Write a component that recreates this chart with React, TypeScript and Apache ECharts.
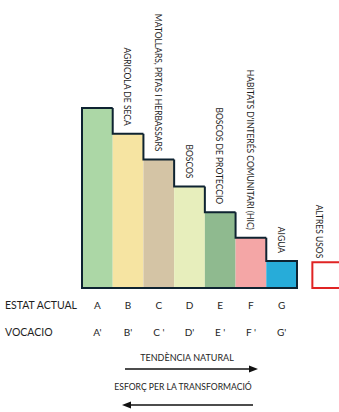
import React, { useEffect, useRef } from "react";
import * as echarts from "echarts";

const LETTERS = ["A", "B", "C", "D", "E", "F", "G"];
const PRIMES = ["A'", "B'", "C '", "D'", "E '", "F '", "G'"];
const VALUES = [7, 6, 5, 3.95, 2.95, 1.95, 1.05];
const LABELS = [
  "",
  "AGRICOLA DE SECA",
  "MATOLLARS, PRTAS I HERBASSARS",
  "BOSCOS",
  "BOSCOS DE PROTECCIO",
  "HABITATS D'INTERÉS COMUNITARI (HIC)",
  "AIGUA",
];
const COLORS = ["#acd7a6", "#f6e4a2", "#d4c4a5", "#e7eebc", "#8fba8f", "#f4a6a6", "#27acd9"];
const OTHER_LABEL = "ALTRES USOS";
const OTHER_POS = 7.5;
const OTHER_VALUE = 1;

const FONT = "Lato, 'Open Sans', sans-serif";
const OUTLINE = "#0e2331";
const TEXT = "#1e1e1e";

export default function App() {
  const ref = useRef<HTMLDivElement>(null);
  useEffect(() => {
    if (!ref.current) return;
    const chart = echarts.init(ref.current, undefined, { renderer: "svg" });
    const barData = VALUES.map((v, i) => [i, v]);
    const option: any = {
      animation: false,
      grid: { left: 82, right: 42, top: 108, bottom: 124 },
      xAxis: [
        { type: "value", min: 0, max: 7, show: false },
        {
          type: "category",
          data: LETTERS,
          position: "bottom",
          axisLine: { show: false },
          axisTick: { show: false },
          axisLabel: { margin: 12, fontSize: 10, color: TEXT, fontFamily: FONT },
        },
        {
          type: "category",
          data: PRIMES,
          position: "bottom",
          offset: 27,
          axisLine: { show: false },
          axisTick: { show: false },
          axisLabel: { margin: 12, fontSize: 10, color: TEXT, fontFamily: FONT },
        },
      ],
      yAxis: { type: "value", min: 0, max: 7, show: false },
      series: [
        {
          type: "custom",
          clip: false,
          xAxisIndex: 0,
          data: barData,
          renderItem: (params: any, api: any) => {
            const idx = params.dataIndex;
            const i = api.value(0);
            const v = api.value(1);
            const [x0, top] = api.coord([i, v]);
            const [x1, bottom] = api.coord([i + 1, 0]);
            const prev = idx > 0 ? VALUES[idx - 1] : 0;
            const prevTop = api.coord([i, prev])[1];
            const children: any[] = [
              {
                type: "rect",
                shape: { x: x0, y: top, width: x1 - x0, height: bottom - top },
                style: { fill: COLORS[idx] },
              },
            ];
            const pts: number[][] = [
              [x0, prevTop],
              [x0, top],
              [x1, top],
            ];
            if (idx === VALUES.length - 1) {
              pts.push([x1, bottom]);
              const start = api.coord([0, 0]);
              children.push({
                type: "line",
                shape: { x1: start[0] - 1, y1: bottom, x2: x1 + 1, y2: bottom },
                style: { stroke: OUTLINE, lineWidth: 2 },
              });
            }
            children.push({
              type: "polyline",
              shape: { points: pts },
              style: { stroke: OUTLINE, lineWidth: 2, fill: null, lineJoin: "miter" },
            });
            if (LABELS[idx]) {
              children.push({
                type: "text",
                x: (x0 + x1) / 2 - 1,
                y: top - 8,
                rotation: -Math.PI / 2,
                style: {
                  text: LABELS[idx],
                  fontSize: 8.5,
                  fill: TEXT,
                  fontFamily: FONT,
                  align: "right",
                  verticalAlign: "middle",
                },
              });
            }
            return { type: "group", children };
          },
        },
        {
          type: "custom",
          clip: false,
          xAxisIndex: 0,
          data: [[OTHER_POS, OTHER_VALUE]],
          renderItem: (params: any, api: any) => {
            const i = api.value(0);
            const v = api.value(1);
            const [x0, top] = api.coord([i, v]);
            const [x1, bottom] = api.coord([i + 1, 0]);
            return {
              type: "group",
              children: [
                {
                  type: "rect",
                  shape: { x: x0, y: top, width: x1 - x0, height: bottom - top },
                  style: { fill: "#ffffff", stroke: "#e02424", lineWidth: 2 },
                },
                {
                  type: "text",
                  x: x0 + 7,
                  y: top - 4,
                  rotation: -Math.PI / 2,
                  style: {
                    text: OTHER_LABEL,
                    fontSize: 8.5,
                    fill: TEXT,
                    fontFamily: FONT,
                    align: "right",
                    verticalAlign: "middle",
                  },
                },
              ],
            };
          },
        },
      ],
      graphic: [
        {
          type: "text",
          left: 5,
          top: 299,
          style: { text: "ESTAT ACTUAL", fontSize: 10.5, fill: TEXT, fontFamily: FONT },
        },
        {
          type: "text",
          left: 5,
          top: 326,
          style: { text: "VOCACIO", fontSize: 10.5, fill: TEXT, fontFamily: FONT },
        },
        {
          type: "text",
          x: 187,
          y: 357,
          style: {
            text: "TENDÈNCIA NATURAL",
            fontSize: 9,
            fill: TEXT,
            fontFamily: FONT,
            align: "center",
            verticalAlign: "middle",
          },
        },
        {
          type: "line",
          shape: { x1: 125, y1: 369, x2: 250, y2: 369 },
          style: { stroke: "#111", lineWidth: 1.5 },
        },
        {
          type: "polygon",
          shape: { points: [[249, 365.5], [258, 369], [249, 372.5]] },
          style: { fill: "#111" },
        },
        {
          type: "text",
          x: 183,
          y: 387,
          style: {
            text: "ESFORÇ PER LA TRANSFORMACIÓ",
            fontSize: 8.6,
            fill: TEXT,
            fontFamily: FONT,
            align: "center",
            verticalAlign: "middle",
          },
        },
        {
          type: "line",
          shape: { x1: 130, y1: 405, x2: 253, y2: 405 },
          style: { stroke: "#111", lineWidth: 1.5 },
        },
        {
          type: "polygon",
          shape: { points: [[131, 401.5], [122, 405], [131, 408.5]] },
          style: { fill: "#111" },
        },
      ],
    };
    chart.setOption(option);
    return () => chart.dispose();
  }, []);
  return (
    <div
      ref={ref}
      style={{ position: "fixed", left: 0, top: 0, width: 339, height: 412, background: "#fff" }}
    />
  );
}
